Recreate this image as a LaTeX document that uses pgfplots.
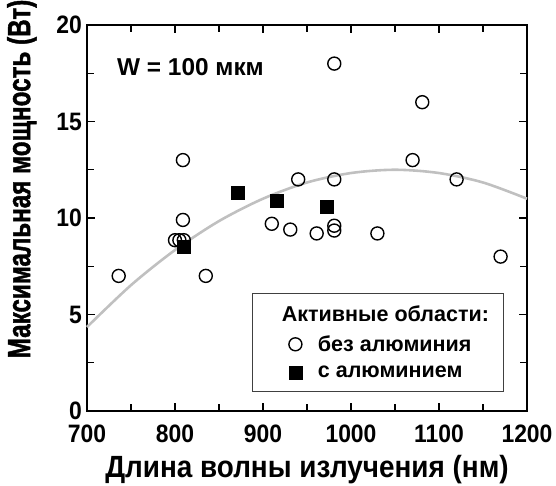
\documentclass[border=0pt]{standalone}
\usepackage{pgfplots}
\pgfplotsset{compat=1.18}
\usepackage{fontspec}
\setmainfont{Liberation Sans}
\newfontfamily\heavyfont[UprightFont={* Bold}, UprightFeatures={FakeBold=1.6}]{Liberation Sans}
\definecolor{fitgray}{RGB}{192,192,192}
\begin{document}
\begin{tikzpicture}[x=1bp,y=1bp]
\useasboundingbox (0,0) rectangle (556bp,486bp);
\begin{axis}[
  at={(87bp,75bp)}, anchor=south west,
  width=440bp, height=386bp, scale only axis,
  xmin=700, xmax=1200, ymin=0, ymax=20,
  xtick={700,800,...,1200}, ytick={0,5,...,20},
  minor xtick={750,850,...,1150}, minor ytick={2.5,7.5,...,17.5},
  tick align=inside, major tick length=8bp, minor tick length=7bp,
  every tick/.style={black, line width=1.2pt},
  axis line style={line width=1.6pt},
  /pgf/number format/assume math mode=true,
  /pgf/number format/1000 sep={},
  tick label style={font=\bfseries\fontsize{23}{23}\selectfont, inner sep=1bp},
  xticklabel={\scalebox{1}[1.1]{\pgfmathprintnumber{\tick}}},
  yticklabel={\scalebox{1}[1.1]{\pgfmathprintnumber{\tick}}},
  xticklabel style={yshift=-13bp},
  yticklabel style={xshift=-4bp},
  xlabel={\scalebox{1}[1.1]{Длина волны излучения (нм)}},
  xlabel style={font=\bfseries\fontsize{28}{28}\selectfont, at={(rel axis cs:0.5,-0.114)}, anchor=north, inner sep=0pt},
  ylabel={\scalebox{0.76}[1]{Максимальная мощность (Вт)}},
  ylabel style={font=\heavyfont\fontsize{32}{32}\selectfont, at={(rel axis cs:-0.148,0.601)}, anchor=center, inner sep=0pt, rotate=0},
  legend style={at={(rel axis cs:0.375,0.3057)}, anchor=north west,
    draw=black!75, line width=0.8pt, font=\bfseries\fontsize{21.6}{23}\selectfont,
    row sep=9bp, inner xsep=34.5bp, inner ysep=10bp,
    /tikz/every odd column/.append style={column sep=14bp}},
  legend cell align=left,
  clip=false,
]
\addlegendimage{empty legend}
\addlegendentry{\hspace{-36bp}Активные области:\kern-40bp}
\addplot[only marks, mark=o, mark size=6.5bp, line width=1.4pt, black]
coordinates {
(736,7.0) (835,7.0) (809,13.0) (809,9.9) (800,8.85) (805,8.85) (810,8.85)
(910,9.7) (931,9.4) (940,12.0) (961,9.2) (981,12.0) (981,9.6) (981,9.35)
(981,18.0) (1030,9.2) (1081,16.0) (1070,13.0) (1120,12.0) (1170,8.0)
};
\addlegendentry{без алюминия\kern-5bp}
\addplot[only marks, mark=square*, mark size=6.5bp, black]
coordinates {
(810,8.5) (871,11.3) (916,10.9) (972,10.6)
};
\addlegendentry{с алюминием\kern-5bp}
\addplot[fitgray, line width=2.6pt, smooth, forget plot]
coordinates {
(700,4.35) (750,6.52) (800,8.34) (850,9.84) (900,11.0) (950,11.84)
(1000,12.33) (1050,12.5) (1100,12.33) (1150,11.84) (1200,11.0)
};
\node[anchor=west, inner sep=0pt, font=\bfseries\fontsize{24.5}{24.5}\selectfont] at (axis cs:734,17.8) {W = 100 мкм};
\end{axis}
\end{tikzpicture}
\end{document}
